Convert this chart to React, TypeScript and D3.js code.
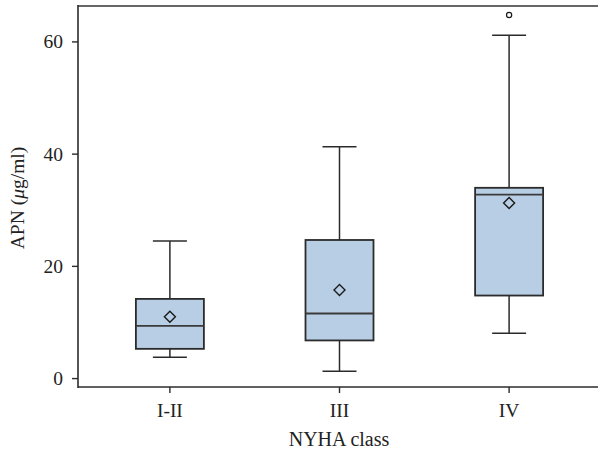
import { useRef, useEffect } from "react";
import * as d3 from "d3";

const classes = ["I-II", "III", "IV"];
const whiskerLow = [3.8, 1.3, 8.1];
const q1 = [5.3, 6.8, 14.8];
const median = [9.4, 11.6, 32.8];
const q3 = [14.2, 24.7, 34.0];
const whiskerHigh = [24.5, 41.3, 61.2];
const means = [11.0, 15.8, 31.3];
const outliers = [{ cls: "IV", value: 64.8 }];
const yTicks = [0, 20, 40, 60];

export default function App() {
  const svgRef = useRef<SVGSVGElement>(null);

  useEffect(() => {
    if (!svgRef.current) return;
    const svg = d3.select(svgRef.current);
    svg.selectAll("*").remove();

    const left = 78;
    const right = 598;
    const top = 6;
    const bottom = 387;
    const font = "'Liberation Serif', 'Times New Roman', serif";
    const ink = "#2b2b2b";
    const fs = 19.5;

    const x = d3.scalePoint<string>().domain(classes).range([left + 2, right + 1]).padding(0.53);
    const y = d3.scaleLinear().domain([-1.5, 66.4]).range([bottom, top]);

    const boxW = 68;
    const capW = 34;

    const data = classes.map((c, i) => ({
      c,
      lo: whiskerLow[i],
      q1: q1[i],
      med: median[i],
      q3: q3[i],
      hi: whiskerHigh[i],
      mean: means[i],
    }));

    const g = svg.append("g");

    // whiskers
    const wk = g.selectAll(".wk").data(data).enter().append("g");
    wk.append("line")
      .attr("x1", (d) => x(d.c)!)
      .attr("x2", (d) => x(d.c)!)
      .attr("y1", (d) => y(d.hi))
      .attr("y2", (d) => y(d.q3))
      .attr("stroke", ink)
      .attr("stroke-width", 1.5);
    wk.append("line")
      .attr("x1", (d) => x(d.c)!)
      .attr("x2", (d) => x(d.c)!)
      .attr("y1", (d) => y(d.q1))
      .attr("y2", (d) => y(d.lo))
      .attr("stroke", ink)
      .attr("stroke-width", 1.5);
    wk.append("line")
      .attr("x1", (d) => x(d.c)! - capW / 2)
      .attr("x2", (d) => x(d.c)! + capW / 2)
      .attr("y1", (d) => y(d.hi))
      .attr("y2", (d) => y(d.hi))
      .attr("stroke", ink)
      .attr("stroke-width", 1.5);
    wk.append("line")
      .attr("x1", (d) => x(d.c)! - capW / 2)
      .attr("x2", (d) => x(d.c)! + capW / 2)
      .attr("y1", (d) => y(d.lo))
      .attr("y2", (d) => y(d.lo))
      .attr("stroke", ink)
      .attr("stroke-width", 1.5);

    // boxes
    wk.append("rect")
      .attr("x", (d) => x(d.c)! - boxW / 2)
      .attr("width", boxW)
      .attr("y", (d) => y(d.q3))
      .attr("height", (d) => y(d.q1) - y(d.q3))
      .attr("fill", "#b8cee4")
      .attr("stroke", ink)
      .attr("stroke-width", 1.8);
    wk.append("line")
      .attr("x1", (d) => x(d.c)! - boxW / 2)
      .attr("x2", (d) => x(d.c)! + boxW / 2)
      .attr("y1", (d) => y(d.med))
      .attr("y2", (d) => y(d.med))
      .attr("stroke", "#3a3a3a")
      .attr("stroke-width", 1.8);

    // mean diamonds
    wk.append("path")
      .attr("d", (d) => {
        const cx = x(d.c)!;
        const cy = y(d.mean);
        const r = 5.5;
        return `M${cx},${cy - r}L${cx + r},${cy}L${cx},${cy + r}L${cx - r},${cy}Z`;
      })
      .attr("fill", "none")
      .attr("stroke", "#1a1a1a")
      .attr("stroke-width", 1.4);

    // outliers
    g.selectAll(".out")
      .data(outliers)
      .enter()
      .append("circle")
      .attr("cx", (d) => x(d.cls)!)
      .attr("cy", (d) => y(d.value))
      .attr("r", 2.6)
      .attr("fill", "white")
      .attr("stroke", "#1a1a1a")
      .attr("stroke-width", 1.2);

    // frame
    svg.append("line")
      .attr("x1", left).attr("x2", right)
      .attr("y1", top).attr("y2", top)
      .attr("stroke", "#666").attr("stroke-width", 2);
    svg.append("line")
      .attr("x1", left).attr("x2", left)
      .attr("y1", top - 1).attr("y2", bottom + 1)
      .attr("stroke", ink).attr("stroke-width", 1.6);
    svg.append("line")
      .attr("x1", left).attr("x2", right)
      .attr("y1", bottom).attr("y2", bottom)
      .attr("stroke", ink).attr("stroke-width", 1.6);

    // y ticks
    const yt = svg.selectAll(".yt").data(yTicks).enter().append("g");
    yt.append("line")
      .attr("x1", left - 6).attr("x2", left)
      .attr("y1", (d) => y(d)).attr("y2", (d) => y(d))
      .attr("stroke", ink).attr("stroke-width", 1.4);
    yt.append("text")
      .attr("x", left - 15)
      .attr("y", (d) => y(d) + 6.5)
      .attr("text-anchor", "end")
      .attr("font-family", font)
      .attr("font-size", fs)
      .attr("fill", "#222")
      .text((d) => d);

    // x ticks
    const xt = svg.selectAll(".xt").data(classes).enter().append("g");
    xt.append("line")
      .attr("x1", (d) => x(d)!).attr("x2", (d) => x(d)!)
      .attr("y1", bottom).attr("y2", bottom + 6)
      .attr("stroke", ink).attr("stroke-width", 1.4);
    xt.append("text")
      .attr("x", (d) => x(d)!)
      .attr("y", 417)
      .attr("text-anchor", "middle")
      .attr("font-family", font)
      .attr("font-size", fs)
      .attr("fill", "#222")
      .text((d) => d);

    // axis titles
    svg.append("text")
      .attr("x", 339)
      .attr("y", 446)
      .attr("text-anchor", "middle")
      .attr("font-family", font)
      .attr("font-size", 20)
      .attr("fill", "#222")
      .text("NYHA class");

    const yl = svg.append("text")
      .attr("transform", "translate(24,198) rotate(-90)")
      .attr("text-anchor", "middle")
      .attr("font-family", font)
      .attr("font-size", 19.5)
      .attr("fill", "#222");
    yl.append("tspan").text("APN (");
    yl.append("tspan").attr("font-style", "italic").text("μ");
    yl.append("tspan").text("g/ml)");
  }, []);

  return (
    <svg
      ref={svgRef}
      width={598}
      height={455}
      style={{ position: "absolute", left: 0, top: 0, background: "white" }}
    />
  );
}
